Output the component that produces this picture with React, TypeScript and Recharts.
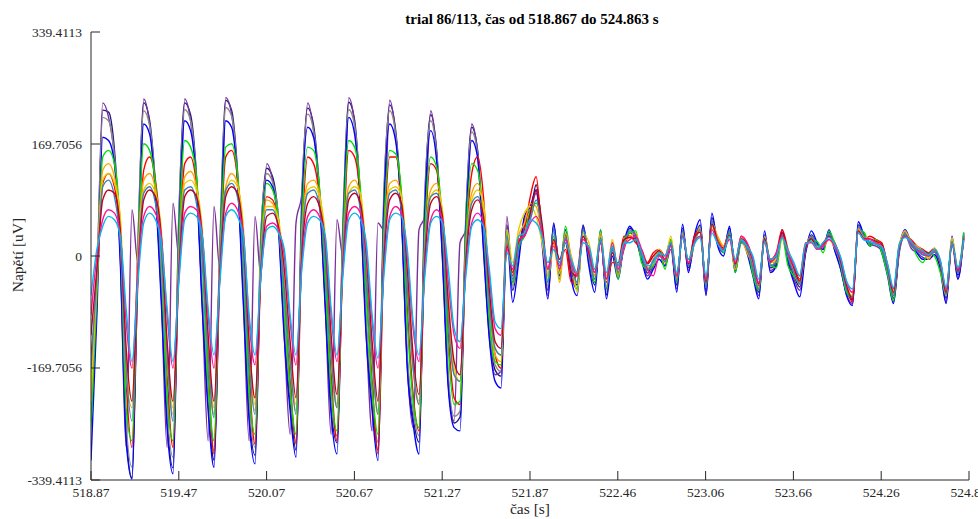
import { LineChart, Line, XAxis, YAxis } from 'recharts';

// sampling of the trial
const T0 = 518.867;
const DT = 0.04;

const xTicks = [518.867, 519.4666, 520.0662, 520.6658, 521.2654, 521.865, 522.4646, 523.0642, 523.6638, 524.2634, 524.863];
const yTicks = [-339.4113, -169.7056, 0, 169.7056, 339.4113];

// channels, values in uV
const navy = [
  -248, -67, 221, 218, 161, 9, -268, -336, 9, 232, 206, 108, -52, -248, -321, 55, 232, 214, 123, -67, -223, -309, 9, 236, 221, 130, -52, -238, -302, 24, 133, 120, 55, -112, -223, -294, 85, 224, 198, 100, -67, -230, -283, 39, 233, 206, 85, -112, -226, -294, 85, 229, 191, 70, -158, -245, -282, 85, 214, 161, 9, -188, -253, -244, 55, 195, 161, 24, -112, -173, -182,
  47, -52, 2, 47, 62, 108, 39, -52, 47, -24, 32, -21, -44, 47, -6, -44, 32, -59, 9, -29, 17, 42, 32, 2, -26, -9, 2, -9, 17, -44, 42, -18, 24, 47, -52, 58, 20, 9, 42, -18, 24, 12, -21, -55, 32, -18, -9, 35, -3, -29, -47, 9, 32, 17, 14, 36, 12, -14, -52, -67, 47, 32, 21, 20, 12, -21, -64, 9, 36, 17, 9, 2, 0, 6, -14, -64, 24, -29, 32,
];
const purple = [
  -200, -40, 232, 210, 150, 0, -290, 70, -10, 238, 200, 100, -60, -290, 80, 0, 238, 205, 115, -75, -280, 75, -20, 240, 215, 120, -60, -280, 60, -30, 140, 115, 50, -120, -270, 50, 95, 232, 190, 95, -75, -270, 55, 0, 240, 200, 80, -118, -265, 50, 40, 236, 185, 62, -165, -260, 40, 60, 220, 155, 0, -195, -250, 20, 40, 200, 155, 15, -120, -180, -175,
  60, -40, 10, 55, 70, 95, 30, -60, 40, -15, 25, -30, -50, 40, 0, -35, 25, -50, 15, -20, 10, 35, 25, -5, -30, -15, 5, -15, 10, -50, 38, -22, 20, 42, -58, 55, 18, 5, 38, -22, 20, 8, -25, -60, 28, -22, -12, 30, -8, -35, -52, 5, 28, 12, 10, 32, 8, -20, -58, -72, 42, 28, 18, 15, 8, -25, -70, 5, 32, 12, 5, -2, -5, 2, -18, -70, 20, -35, 28,
];
const gray = [
  -230, -30, 210, 205, 150, 20, -255, -320, 20, 220, 198, 110, -40, -235, -305, 65, 222, 205, 120, -55, -210, -295, 20, 225, 212, 125, -45, -225, -290, 35, 125, 112, 60, -100, -210, -282, 95, 215, 190, 100, -55, -218, -272, 50, 222, 198, 90, -100, -215, -282, 95, 220, 185, 72, -150, -235, -272, 95, 205, 155, 15, -180, -243, -235, 62, 188, 155, 30, -105, -165, -175,
  40, -45, 5, 50, 60, 100, 35, -45, 45, -20, 30, -18, -40, 45, -5, -40, 30, -55, 10, -25, 15, 40, 30, 5, -22, -5, 5, -5, 15, -40, 40, -15, 22, 45, -48, 55, 18, 10, 40, -15, 22, 10, -18, -50, 30, -15, -5, 33, 0, -25, -43, 10, 30, 15, 12, 34, 10, -10, -48, -62, 45, 30, 20, 18, 10, -18, -60, 10, 34, 15, 10, 5, 2, 8, -12, -60, 22, -26, 30,
];
const blue = [
  -310, -90, 180, 175, 140, -10, -280, -338, -20, 200, 185, 95, -70, -260, -330, 30, 205, 190, 110, -80, -235, -320, -10, 205, 195, 115, -70, -250, -315, 10, 115, 105, 40, -125, -235, -305, 70, 195, 180, 90, -80, -240, -300, 25, 210, 185, 70, -125, -235, -310, 70, 200, 175, 60, -170, -255, -300, 70, 190, 145, -5, -200, -260, -265, 40, 175, 150, 10, -125, -190, -200,
  30, -70, -10, 60, 75, 100, 20, -65, 50, -30, 40, -35, -60, 45, -15, -55, 40, -65, 0, -35, 20, 45, 28, -5, -35, -20, -5, -15, 20, -55, 48, -25, 30, 55, -60, 65, 15, 0, 45, -25, 28, 5, -30, -65, 38, -25, -15, 40, -10, -40, -62, 5, 38, 20, 10, 40, 8, -20, -60, -75, 52, 30, 15, 25, 5, -30, -72, 12, 40, 20, 5, -5, -5, 2, -20, -72, 30, -35, 35,
];
const red = [
  -150, -50, 110, 125, 105, 30, -190, -290, -40, 130, 150, 115, 20, -180, -290, -10, 140, 150, 110, 10, -170, -300, -20, 150, 160, 120, 10, -180, -285, -20, 90, 85, 45, -60, -190, -285, 20, 150, 140, 90, -20, -180, -280, 0, 160, 150, 90, -50, -190, -300, 10, 150, 150, 90, -80, -210, -265, 20, 140, 130, 40, -120, -215, -225, 10, 125, 150, 90, -60, -150, -170,
  20, -30, 20, 40, 90, 120, 30, -30, 20, -10, 10, -40, -25, 30, 10, -30, 20, -40, -10, -10, 30, 30, 20, 10, -10, 5, 10, 0, 25, -35, 35, -10, 30, 40, -45, 50, 25, 15, 35, -10, 30, 20, -5, -45, 25, -5, 5, 40, 10, -15, -35, 15, 25, 10, 20, 30, 20, -5, -45, -70, 40, 25, 30, 25, 20, -15, -58, 15, 30, 25, 15, 10, 5, 12, -10, -58, 20, -25, 28,
];
const green = [
  -260, -60, 150, 160, 140, 40, -230, -280, -10, 170, 160, 110, 0, -210, -280, 20, 175, 165, 120, -10, -190, -280, 0, 165, 170, 125, 0, -200, -270, 10, 110, 100, 55, -70, -200, -270, 50, 165, 160, 105, -30, -200, -265, 20, 175, 165, 100, -60, -200, -270, 40, 160, 155, 95, -100, -220, -260, 40, 150, 135, 50, -140, -225, -220, 30, 140, 130, 60, -90, -160, -165,
  35, -40, 15, 30, 70, 80, 45, -40, 30, -35, 45, -10, -50, 35, 5, -40, 40, -50, 15, -35, 25, 35, 38, -10, -20, -15, 10, -20, 25, -40, 35, -12, 18, 40, -45, 50, 25, 5, 35, -25, 20, 15, -28, -52, 25, -12, -18, 28, -15, -30, -40, 15, 25, 22, 5, 38, 18, -15, -55, -62, 40, 36, 15, 25, 5, -28, -68, 12, 30, 22, 0, -10, 5, 0, -25, -60, 20, -20, 36,
];
const orange = [
  -220, -40, 130, 140, 120, 50, -180, -230, 0, 115, 125, 100, 20, -160, -240, 0, 120, 128, 105, 20, -150, -240, 0, 105, 125, 110, 30, -150, -235, 0, 85, 80, 50, -40, -160, -235, 30, 110, 115, 95, 10, -150, -230, 10, 105, 115, 90, -20, -160, -240, 20, 110, 115, 90, -40, -170, -225, 20, 100, 110, 60, -90, -180, -190, 10, 95, 110, 70, -60, -150, -160,
  25, -20, 30, 50, 80, 75, 30, -25, 25, -40, 35, 0, -30, 30, 10, -30, 35, -45, 20, -30, 20, 30, 35, 0, -18, -12, 5, -10, 20, -35, 35, -10, 20, 42, -42, 50, 30, 15, 30, -20, 25, 5, -15, -48, 30, -8, -10, 30, 5, -25, -42, 12, 30, 12, 18, 30, 15, -10, -48, -60, 42, 30, 25, 22, 15, -15, -58, 15, 38, 20, 15, 8, -5, 10, -10, -60, 25, -20, 30,
];
const yellow = [
  -200, -20, 115, 125, 110, 60, -150, -220, -10, 100, 110, 95, 40, -140, -230, -20, 110, 115, 100, 40, -130, -230, -20, 95, 115, 105, 45, -130, -225, -10, 75, 75, 55, -20, -150, -225, 10, 100, 105, 90, 30, -140, -225, -10, 95, 105, 95, 0, -150, -235, 0, 100, 105, 90, -10, -160, -220, 0, 90, 100, 70, -60, -170, -190, -10, 85, 100, 80, -40, -140, -150,
  40, -10, 40, 65, 75, 60, 20, -30, 10, -25, 20, -5, -55, 35, 20, -20, 30, -30, 25, -20, 15, 25, 30, 5, -15, -10, 10, -5, 30, -30, 30, -5, 25, 38, -40, 45, 22, 12, 28, -12, 28, 15, -10, -42, 28, -10, -5, 25, 8, -20, -38, 15, 22, 15, 15, 25, 12, -8, -45, -55, 40, 28, 25, 20, 15, -12, -55, 18, 35, 22, 12, 5, -2, 12, -8, -55, 28, -18, 25,
];
const steel = [
  -170, -30, 105, 115, 90, 20, -170, -250, -20, 95, 105, 80, 10, -150, -250, -10, 100, 105, 80, 0, -150, -245, -10, 100, 110, 90, 10, -160, -240, -10, 70, 70, 40, -50, -160, -240, 20, 95, 100, 75, 0, -150, -230, 0, 95, 100, 70, -30, -155, -240, 10, 95, 100, 70, -50, -170, -225, 10, 90, 95, 50, -100, -180, -190, 0, 80, 90, 55, -70, -140, -150,
  30, -35, 10, 35, 55, 85, 40, -40, 40, -20, 28, -15, -40, 40, 0, -35, 28, -50, 12, -25, 18, 38, 30, 0, -22, -8, 2, -8, 18, -38, 38, -15, 22, 40, -48, 52, 20, 8, 38, -15, 22, 12, -18, -50, 28, -15, -8, 32, -2, -25, -42, 10, 30, 16, 14, 34, 12, -12, -50, -62, 44, 30, 20, 18, 12, -20, -60, 10, 34, 16, 8, 2, 0, 6, -12, -58, 22, -26, 30,
];
const darkred = [
  -120, -20, 85, 100, 95, 40, -140, -220, -30, 85, 100, 90, 30, -130, -220, -30, 90, 100, 90, 30, -120, -220, -30, 90, 105, 95, 30, -130, -215, -30, 60, 65, 45, -20, -130, -215, 0, 80, 90, 75, 20, -120, -210, -20, 85, 95, 80, 0, -130, -220, -10, 85, 95, 80, -20, -150, -210, -10, 80, 90, 60, -70, -160, -180, -10, 70, 85, 60, -50, -130, -140,
  15, -25, 25, 30, 65, 100, 50, -20, 25, -5, 20, -25, -30, 30, 5, -25, 25, -35, 5, -15, 25, 28, 25, 5, -12, 0, 8, -5, 20, -30, 30, -12, 28, 36, -40, 48, 22, 12, 32, -12, 26, 18, -8, -42, 26, -8, 0, 36, 5, -18, -38, 12, 26, 12, 18, 30, 16, -8, -45, -65, 38, 26, 26, 22, 18, -15, -55, 14, 30, 22, 12, 8, 4, 10, -10, -55, 20, -22, 26,
];
const magenta = [
  -90, 0, 55, 70, 65, 30, -100, -170, -20, 60, 75, 65, 30, -90, -170, -30, 65, 75, 70, 30, -90, -170, -30, 65, 80, 70, 35, -100, -165, -30, 45, 50, 40, 0, -100, -165, -10, 60, 70, 60, 25, -90, -160, -20, 65, 75, 65, 10, -100, -170, -20, 60, 75, 65, 0, -110, -160, -20, 55, 70, 55, -40, -120, -140, -20, 50, 65, 50, -30, -110, -120,
  10, -20, 25, 30, 50, 60, 35, -20, 15, -20, 25, -10, -30, 25, 10, -25, 20, -35, 20, -20, 15, 25, 30, 10, -20, -30, 0, -5, 15, -30, 30, -10, 20, 30, -35, 40, 20, 10, 25, -10, 30, 20, -5, -40, 20, -10, 5, 30, 5, -15, -30, 20, 20, 10, 15, 25, 15, -5, -40, -55, 35, 25, 25, 20, 15, -15, -50, 15, 30, 20, 10, 5, 0, 10, -8, -50, 18, -20, 22,
];
const cyan = [
  -60, 10, 45, 60, 55, 30, -80, -160, -40, 50, 65, 55, 20, -80, -160, -40, 55, 65, 60, 30, -80, -150, -40, 60, 70, 60, 30, -90, -150, -30, 40, 45, 35, 10, -90, -150, -20, 50, 60, 55, 30, -80, -150, -30, 55, 65, 55, 20, -90, -155, -30, 55, 65, 60, 10, -100, -150, -30, 50, 60, 50, -20, -110, -130, -30, 45, 55, 45, -20, -100, -110,
  5, -15, 30, 35, 55, 50, 30, -10, 10, -10, 20, -5, -25, 20, 15, -20, 25, -25, 15, -15, 20, 20, 25, 5, -15, -10, 5, 0, 20, -25, 28, -5, 18, 28, -30, 35, 18, 8, 30, -5, 25, 15, 0, -35, 22, -5, 0, 28, 8, -10, -30, 18, 22, 12, 20, 28, 18, -2, -38, -50, 35, 24, 22, 18, 14, -12, -48, 18, 28, 22, 12, 8, 2, 10, -6, -48, 20, -18, 25,
];

const channels = [
  { key: 'navy', color: '#1c1c78', values: navy },
  { key: 'purple', color: '#7a2f9a', values: purple },
  { key: 'gray', color: '#8a8a8a', values: gray },
  { key: 'blue', color: '#0000ff', values: blue },
  { key: 'red', color: '#ff0000', values: red },
  { key: 'green', color: '#00e000', values: green },
  { key: 'orange', color: '#ffa500', values: orange },
  { key: 'yellow', color: '#e8cc00', values: yellow },
  { key: 'steel', color: '#3a80c0', values: steel },
  { key: 'darkred', color: '#c00020', values: darkred },
  { key: 'magenta', color: '#ff1493', values: magenta },
  { key: 'cyan', color: '#00b8f0', values: cyan },
];

const data = navy.map((_, i) => {
  const row: Record<string, number> = { t: T0 + i * DT };
  channels.forEach((c) => {
    row[c.key] = c.values[i];
  });
  return row;
});

const AXIS = '#262626';
const FONT = '"Liberation Serif", "Times New Roman", serif';

const XTick = ({ x, y, payload }: any) => (
  <g>
    <line x1={x} x2={x} y1={y} y2={y - 9} stroke={AXIS} />
    <text x={x} y={y + 17} textAnchor="middle" fontFamily={FONT} fontSize={13.5} fill={AXIS}>
      {payload.value.toFixed(2)}
    </text>
  </g>
);

const YTick = ({ x, y, payload }: any) => (
  <g>
    <line x1={x} x2={x + 9} y1={y} y2={y} stroke={AXIS} />
    <text x={x - 9} y={y + 4.5} textAnchor="end" fontFamily={FONT} fontSize={13.5} fill={AXIS}>
      {payload.value === 0 ? '0' : payload.value.toFixed(4)}
    </text>
  </g>
);

export default function App() {
  return (
    <div style={{ position: 'absolute', left: 0, top: 0, width: 978, height: 519, overflow: 'hidden', background: '#fff' }}>
      <LineChart width={1000} height={519} data={data} margin={{ top: 32, right: 31, bottom: 9, left: 31 }}>
        <XAxis
          dataKey="t"
          type="number"
          domain={[518.867, 524.863]}
          ticks={xTicks}
          height={30}
          tickSize={0}
          tickMargin={0}
          tick={<XTick />}
          axisLine={{ stroke: AXIS }}
          allowDataOverflow
        />
        <YAxis
          type="number"
          domain={[-339.4113, 339.4113]}
          ticks={yTicks}
          width={60}
          tickSize={0}
          tickMargin={0}
          tick={<YTick />}
          axisLine={{ stroke: AXIS }}
          allowDataOverflow
        />
        {channels.map((c) => (
          <Line
            key={c.key}
            dataKey={c.key}
            type="monotone"
            stroke={c.color}
            strokeWidth={1.4}
            dot={false}
            isAnimationActive={false}
          />
        ))}
      </LineChart>
      <div style={{ position: 'absolute', left: 282, width: 500, top: 11, textAlign: 'center', fontFamily: FONT, fontSize: 15, fontWeight: 'bold', color: '#000' }}>
        trial 86/113, čas od 518.867 do 524.863 s
      </div>
      <div style={{ position: 'absolute', left: 430, width: 200, top: 500, textAlign: 'center', fontFamily: FONT, fontSize: 15.5, color: AXIS }}>
        čas [s]
      </div>
      <div style={{ position: 'absolute', left: -82, width: 200, top: 246, textAlign: 'center', fontFamily: FONT, fontSize: 15.5, color: AXIS, transform: 'rotate(-90deg)' }}>
        Napětí [uV]
      </div>
    </div>
  );
}
